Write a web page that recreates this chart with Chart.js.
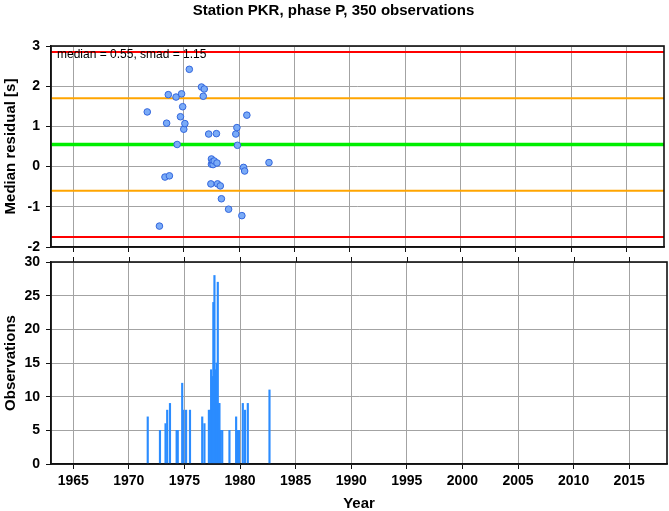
<!DOCTYPE html>
<html>
<head>
<meta charset="utf-8">
<script src="https://cdn.jsdelivr.net/npm/chart.js@4/dist/chart.umd.min.js"></script>
<style>
  html, body { margin: 0; padding: 0; background: #fff; }
  #wrap { position: relative; width: 669px; height: 511px; }
  canvas { position: absolute; left: 0; }
</style>
</head>
<body>
<div id="wrap">
  <canvas id="residual-chart" width="669" height="255" style="top:0"></canvas>
  <canvas id="count-chart" width="669" height="256" style="top:255px"></canvas>
</div>
<script>
/* ── Data ── */
const TITLE = 'Station PKR, phase P, 350 observations';
const MEDIAN = 0.55;
const SMAD = 1.15;

const yearTicks = [1965, 1970, 1975, 1980, 1985, 1990, 1995, 2000, 2005, 2010, 2015];
const residualTicks = [-2, -1, 0, 1, 2, 3];
const countTicks = [0, 5, 10, 15, 20, 25, 30];

// median residual per event (scatter)
const residualYears = [1971.7, 1972.8, 1973.3, 1973.45, 1973.6, 1973.7, 1974.3, 1974.4, 1974.7, 1974.8,
    1974.9, 1975.0, 1975.1, 1975.5, 1976.6, 1976.76, 1976.85, 1977.25, 1977.45, 1977.5,
    1977.5, 1977.6, 1977.65, 1977.75, 1977.95, 1978.0, 1978.05, 1978.3, 1978.4, 1979.05,
    1979.7, 1979.8, 1979.85, 1980.25, 1980.4, 1980.5, 1980.7, 1982.7];
const residualValues = [1.36, -1.48, -0.26, 1.08, 1.79, -0.23, 1.73, 0.55, 1.24, 1.81,
    1.49, 0.93, 1.07, 2.42, 1.98, 1.75, 1.93, 0.81, -0.43, 0.19,
    0.06, 0.12, 0.05, 0.14, 0.82, 0.09, -0.43, -0.48, -0.80, -1.06,
    0.81, 0.97, 0.53, -1.22, -0.02, -0.11, 1.28, 0.10];

// reference levels: median, +/- 1 smad, +/- 2 smad
const bandLevels = [2.85, 1.70, 0.55, -0.60, -1.75];
const bandColors = ['#ff0000', '#ffa500', '#00ee00', '#ffa500', '#ff0000'];
const bandWidths = [2, 2, 3.5, 2, 2];

// observations per event (bars)
const countYears = [1971.7, 1972.8, 1973.3, 1973.45, 1973.7, 1974.3, 1974.4, 1974.8, 1974.9, 1975.15,
    1975.5, 1976.6, 1976.8, 1977.2, 1977.35, 1977.4, 1977.55, 1977.6, 1977.65, 1977.7,
    1977.8, 1977.85, 1977.9, 1978.0, 1978.1, 1978.15, 1978.25, 1978.4, 1979.05, 1979.65,
    1979.8, 1979.9, 1980.25, 1980.45, 1980.7, 1982.65];
const countValues = [7, 5, 6, 8, 9, 5, 5, 12, 8, 8,
    8, 7, 6, 8, 8, 14, 13, 24, 8, 28,
    14, 10, 15, 27, 9, 9, 5, 5, 5, 7,
    5, 5, 9, 8, 9, 11];

/* ── Shared styling ── */
const FONT = "'Liberation Sans', Arial, Helvetica, sans-serif";
const GRID = '#a3a3a3';
const INK = '#111';
const X_MIN = 1963;
const X_MAX = 2018.4;

const fixedTicks = (values) => (scale) => {
    scale.ticks = values.map(v => ({ value: v }));
};

// y axes: fixed width, and no extra room for overflowing end labels
const fitY = (scale) => {
    scale.width = 51;
    scale.paddingTop = 0;
    scale.paddingBottom = 0;
};

// Frame around the plot area plus optional tick marks on the top edge
const framePlugin = {
    id: 'frame',
    afterDraw(chart, args, opts) {
        const { ctx, chartArea: a } = chart;
        ctx.save();
        if (opts.topTicks) {
            const xs = chart.scales.x;
            ctx.strokeStyle = INK;
            ctx.lineWidth = 1;
            yearTicks.forEach(v => {
                const px = Math.round(xs.getPixelForValue(v)) + 0.5;
                ctx.beginPath();
                ctx.moveTo(px, a.top);
                ctx.lineTo(px, a.top - 5);
                ctx.stroke();
            });
        }
        ctx.strokeStyle = INK;
        ctx.lineWidth = 1.6;
        ctx.strokeRect(a.left, a.top, a.right - a.left, a.bottom - a.top);
        ctx.restore();
    }
};

// Stats note in the top-left corner of the residual panel
const notePlugin = {
    id: 'note',
    afterDatasetsDraw(chart) {
        const { ctx, chartArea: a } = chart;
        ctx.save();
        ctx.fillStyle = '#000';
        ctx.font = `12px ${FONT}`;
        ctx.textBaseline = 'middle';
        ctx.fillText(`median = ${MEDIAN.toFixed(2)}, smad = ${SMAD.toFixed(2)}`, a.left + 6, a.top + 9);
        ctx.restore();
    }
};

/* ── Chart 1: Median residual (scatter + reference lines) ── */
const renderResidualChart = () => {
    const ctx = document.getElementById('residual-chart').getContext('2d');

    const points = residualYears.map((x, i) => ({ x, y: residualValues[i] }));
    const bands = bandLevels.map((lvl, i) => ({
        type: 'line',
        data: [{ x: X_MIN, y: lvl }, { x: X_MAX, y: lvl }],
        borderColor: bandColors[i],
        borderWidth: bandWidths[i],
        pointRadius: 0,
        fill: false,
        order: 2
    }));

    new Chart(ctx, {
        type: 'scatter',
        data: {
            datasets: [{
                data: points,
                pointRadius: 3.3,
                pointBackgroundColor: '#7aabf7',
                pointBorderColor: '#3366dd',
                pointBorderWidth: 1,
                order: 1
            }, ...bands]
        },
        options: {
            responsive: false,
            animation: false,
            layout: { padding: { left: 0, right: 2, top: 0, bottom: 0 } },
            plugins: {
                legend: { display: false },
                tooltip: { enabled: false },
                title: {
                    display: true,
                    text: TITLE,
                    color: '#000',
                    font: { family: FONT, size: 15, weight: 'bold' },
                    padding: { top: 2, bottom: 26 }
                },
                frame: { topTicks: false }
            },
            scales: {
                x: {
                    type: 'linear',
                    min: X_MIN,
                    max: X_MAX,
                    afterBuildTicks: fixedTicks(yearTicks),
                    afterFit: (s) => { s.height = 8; },
                    ticks: { display: false },
                    grid: { color: GRID, tickColor: INK, tickLength: 5 },
                    border: { color: INK, width: 1.5 }
                },
                y: {
                    min: -2,
                    max: 3,
                    afterBuildTicks: fixedTicks(residualTicks),
                    afterFit: fitY,
                    ticks: { color: '#000', padding: 6, font: { family: FONT, size: 14, weight: 'bold' } },
                    grid: { color: GRID, tickColor: INK, tickLength: 5 },
                    border: { color: INK, width: 1.5 },
                    title: {
                        display: true,
                        text: 'Median residual [s]',
                        color: '#000',
                        font: { family: FONT, size: 15, weight: 'bold' },
                        padding: { top: 2, bottom: 0 }
                    }
                }
            }
        },
        plugins: [notePlugin, framePlugin]
    });
};

/* ── Chart 2: Observations per event (thin bars) ── */
const renderCountChart = () => {
    const ctx = document.getElementById('count-chart').getContext('2d');

    new Chart(ctx, {
        type: 'bar',
        data: {
            datasets: [{
                data: countYears.map((x, i) => ({ x, y: countValues[i] })),
                backgroundColor: '#2b8cff',
                barThickness: 1.5,
                borderWidth: 0
            }]
        },
        options: {
            responsive: false,
            animation: false,
            layout: { padding: { left: 0, right: 2, top: 7, bottom: 0 } },
            plugins: {
                legend: { display: false },
                tooltip: { enabled: false },
                frame: { topTicks: true }
            },
            scales: {
                x: {
                    type: 'linear',
                    min: X_MIN,
                    max: X_MAX,
                    offset: false,
                    afterBuildTicks: fixedTicks(yearTicks),
                    afterFit: (s) => { s.height = 47; },
                    ticks: {
                        color: '#000',
                        padding: 4,
                        maxRotation: 0,
                        callback: (v) => String(v),
                        font: { family: FONT, size: 14, weight: 'bold' }
                    },
                    grid: { color: GRID, tickColor: INK, tickLength: 5, offset: false },
                    border: { color: INK, width: 1.5 },
                    title: {
                        display: true,
                        text: 'Year',
                        color: '#000',
                        font: { family: FONT, size: 15, weight: 'bold' },
                        padding: { top: 0, bottom: -2 }
                    }
                },
                y: {
                    min: 0,
                    max: 30,
                    afterBuildTicks: fixedTicks(countTicks),
                    afterFit: fitY,
                    ticks: { color: '#000', padding: 6, font: { family: FONT, size: 14, weight: 'bold' } },
                    grid: { color: GRID, tickColor: INK, tickLength: 5 },
                    border: { color: INK, width: 1.5 },
                    title: {
                        display: true,
                        text: 'Observations',
                        color: '#000',
                        font: { family: FONT, size: 15, weight: 'bold' },
                        padding: { top: 2, bottom: 0 }
                    }
                }
            }
        },
        plugins: [framePlugin]
    });
};

renderResidualChart();
renderCountChart();
</script>
</body>
</html>
